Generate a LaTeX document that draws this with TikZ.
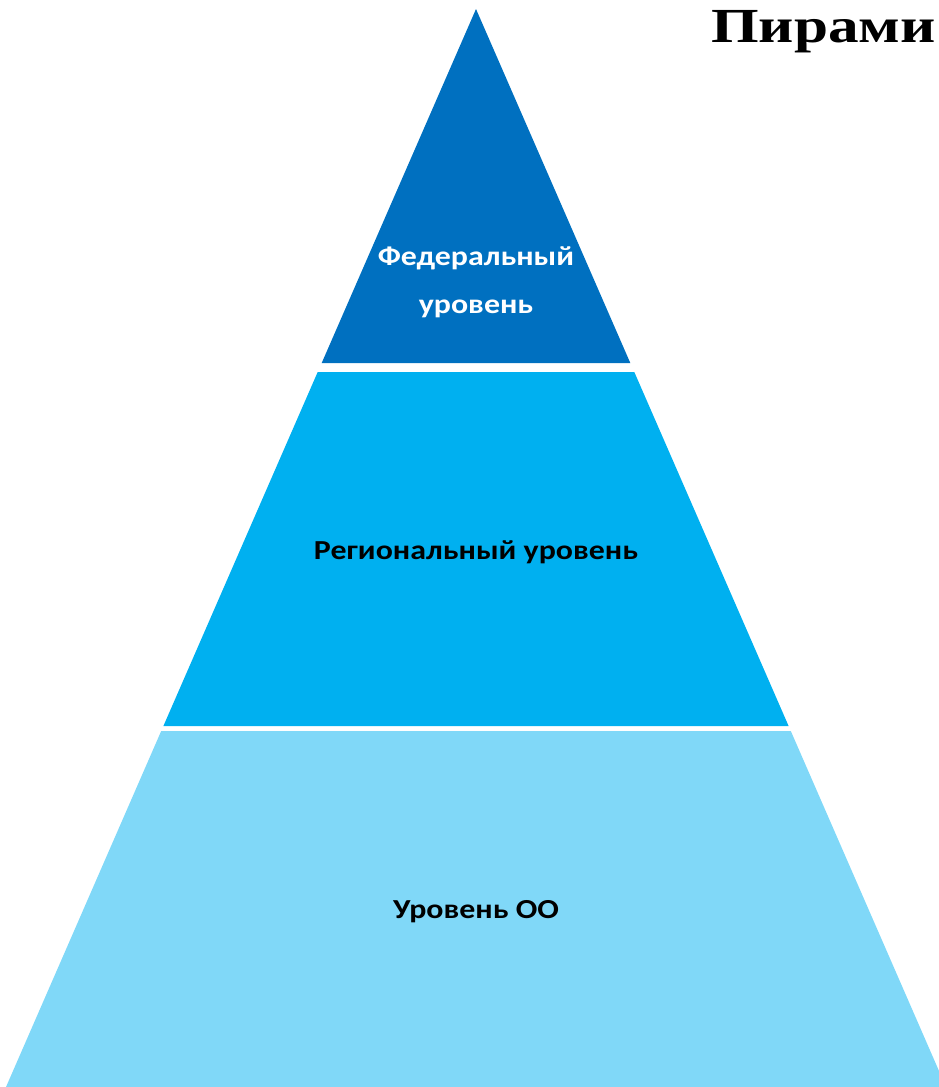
\documentclass[tikz,border=0pt]{standalone}
\usepackage{fontspec}
\setmainfont{Carlito}
\newfontfamily\titlefont{Liberation Serif}
\definecolor{topblue}{HTML}{0070C0}
\definecolor{midblue}{HTML}{00B0F0}
\definecolor{lowblue}{HTML}{80D8F8}
\newcommand\widetxt[1]{\scalebox{1.16}[1]{#1}}
\begin{document}
\begin{tikzpicture}[x=1pt,y=-1pt,
  lbl/.style={font=\bfseries\fontsize{27.5}{48}\selectfont, align=center, inner sep=0pt, anchor=base}]
\useasboundingbox (0,0) rectangle (938,1087);
% top band
\fill[topblue] (476,9) -- (630.3,363) -- (321.7,363) -- cycle;
% middle band
\fill[midblue] (317.7,372) -- (634.3,372) -- (788.6,726) -- (163.4,726) -- cycle;
% bottom band
\fill[lowblue] (161.2,731) -- (790.8,731) -- (946,1087) -- (6,1087) -- cycle;
\node[lbl, text=white] (fed) at (476,313) {\widetxt{Федеральный}\\\widetxt{уровень}};
\node[lbl] (reg) at (476,559) {\widetxt{Региональный уровень}};
\node[lbl] (oo) at (476,918) {\widetxt{Уровень ОО}};
\node[anchor=base west, inner sep=0pt, font=\titlefont\bfseries\fontsize{49}{55}\selectfont] (title) at (711,42) {\scalebox{1.25}[1]{Пирами}};
\end{tikzpicture}
\end{document}
